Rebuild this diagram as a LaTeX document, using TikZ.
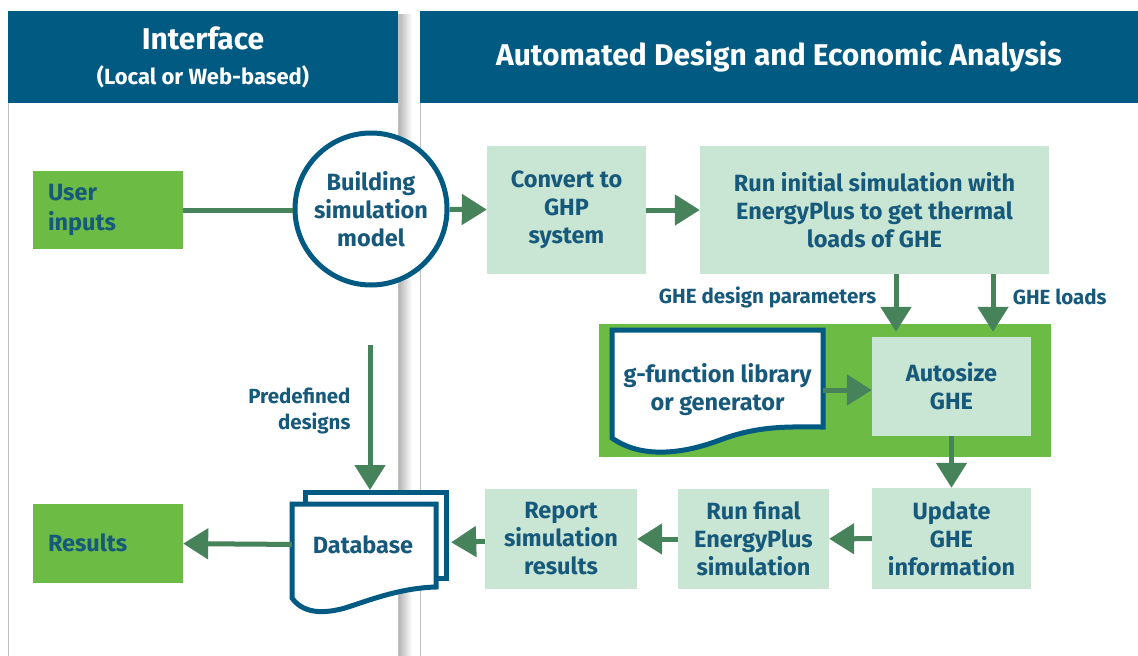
\documentclass[tikz,border=0pt]{standalone}
\usepackage{fontspec}
\setmainfont{Fira Sans}
\usetikzlibrary{arrows.meta,positioning}
\definecolor{hdrblue}{HTML}{005A82}
\definecolor{txtblue}{HTML}{17597A}
\definecolor{arrgreen}{HTML}{46825A}
\definecolor{boxgreen}{HTML}{C9E6D5}
\definecolor{brightgreen}{HTML}{6BBB44}
\begin{document}
\begin{tikzpicture}[x=1pt, y=-1pt,
    stepbox/.style={fill=boxgreen, text=txtblue, align=center, inner sep=0pt,
      font=\bfseries\fontsize{23.5}{28}\selectfont},
    inbox/.style={fill=brightgreen, text=txtblue, align=left, inner xsep=15pt,
      text width=120pt, font=\bfseries\fontsize{23.5}{30}\selectfont},
    doctext/.style={text=txtblue, align=center, inner sep=0pt,
      font=\bfseries\fontsize{23.5}{28}\selectfont},
    docline/.style={draw=hdrblue, line width=5pt, fill=white},
    lbl/.style={text=txtblue, font=\bfseries\fontsize{20.5}{26}\selectfont},
    flow/.style={draw=arrgreen, line width=5pt, -{Triangle[length=25pt,width=30pt]}},
    hdr/.style={fill=hdrblue, text=white, align=center, inner sep=0pt}]
  \useasboundingbox (0,0) rectangle (1138,656);
  % panels
  \shade[left color=black!35, right color=white] (396,14) rectangle (412,656);
  \fill[black!25] (12,14) rectangle (402,106);
  \fill[black!25] (424,14) rectangle (1138,106);
  \draw[black!25, fill=white] (8,102) rectangle (398,660);
  \draw[black!25, fill=white] (420,102) rectangle (1142,660);
  \node[hdr, minimum width=390pt, minimum height=92pt,
    font=\bfseries\fontsize{30}{35}\selectfont] (ihdr) at (203,57)
    {Interface\\{\fontsize{22}{26}\selectfont (Local or Web-based)}};
  \node[hdr, minimum width=718pt, minimum height=92pt,
    font=\bfseries\fontsize{30}{35}\selectfont] (ahdr) at (779,57)
    {Automated Design and Economic Analysis};
  % interface side
  \node[inbox, minimum height=78pt] (userin) at (108,210) {User\\inputs};
  \node[inbox, minimum height=79pt] (results) at (108,543) {Results};
  \node[circle, draw=hdrblue, line width=5pt, fill=white, minimum size=152pt,
    doctext] (bsm) at (371,209) {Building\\simulation\\model};
  % analysis side
  \node[stepbox, minimum width=159pt, minimum height=128pt] (convert) at (566.5,210)
    {Convert to\\GHP\\system};
  \node[stepbox, minimum width=349pt, minimum height=128pt] (runinit) at (874.5,210)
    {Run initial simulation with\\EnergyPlus to get thermal\\loads of GHE};
  \fill[brightgreen] (599,324) rectangle (1051,457);
  \node[stepbox, minimum width=159pt, minimum height=99pt] (autosize) at (951.5,386.5)
    {Autosize\\GHE};
  \draw[docline] (612,330) -- (823,330) -- (823,427)
    .. controls (790,427) and (760,425) .. (720,440)
    .. controls (680,455) and (640,458) .. (612,438) -- cycle;
  \node[doctext, minimum width=211pt, minimum height=80pt] (glib) at (717.5,390)
    {g-function library\\or generator};
  \node[stepbox, minimum width=159pt, minimum height=101pt] (update) at (951.5,538.5)
    {Update\\GHE\\information};
  \node[stepbox, minimum width=151pt, minimum height=100pt] (runfinal) at (753.5,539)
    {Run final\\EnergyPlus\\simulation};
  \node[stepbox, minimum width=152pt, minimum height=100pt] (report) at (561,539)
    {Report\\simulation\\results};
  % database
  \draw[docline] (305,492) rectangle (446,578);
  \draw[docline] (292,504) -- (436,504) -- (436,587)
    .. controls (400,588) and (370,600) .. (345,608)
    .. controls (320,615) and (302,612) .. (292,598) -- cycle;
  \node[doctext, minimum width=142pt, minimum height=60pt] (db) at (363,545) {Database};
  \coordinate (pd) at (370,345);
  \coordinate (dbtop) at (370,490);
  % connectors
  \draw[draw=arrgreen, line width=5pt] (userin.east) -- (bsm.west |- userin.east);
  \draw[flow] (bsm) -- (convert);
  \draw[flow] (convert) -- (runinit);
  \draw[flow] ([xshift=21.5pt]runinit.south) -- ([xshift=-55.5pt,yshift=5pt]autosize.north)
    node[lbl, anchor=east, pos=0.4, xshift=-14pt] {GHE design parameters};
  \draw[flow] ([xshift=118.5pt]runinit.south) -- ([xshift=41.5pt,yshift=5pt]autosize.north)
    node[lbl, anchor=west, pos=0.4, xshift=14pt] {GHE loads};
  \draw[flow] (glib.east) -- (autosize.west |- glib.east);
  \draw[flow] (autosize) -- (update);
  \draw[flow] (update) -- (runfinal);
  \draw[flow] (runfinal) -- (report);
  \draw[flow, shorten >=17pt] (report) -- (db);
  \draw[flow] (db) -- (results);
  \draw[flow] (pd) -- (dbtop);
  \node[lbl, anchor=east, align=right] (pdlbl) at (354,411) {Predefined\\designs};
\end{tikzpicture}
\end{document}
